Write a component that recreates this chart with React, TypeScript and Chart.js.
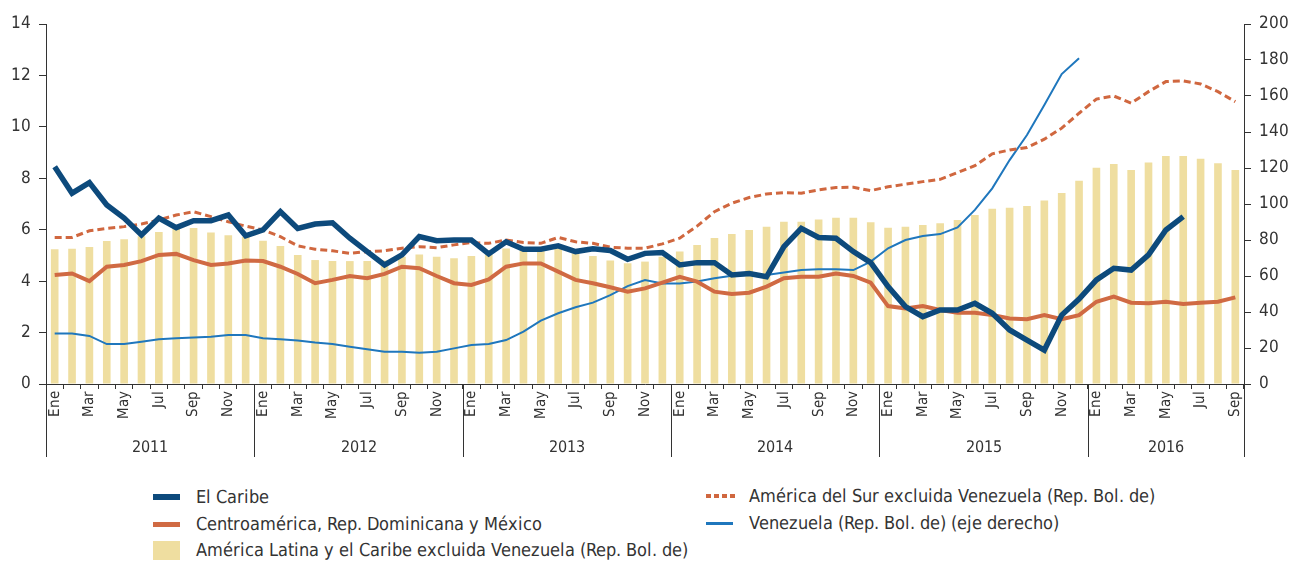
import React, { useEffect, useRef } from 'react';
import { Chart, registerables } from 'chart.js';

Chart.register(...registerables);

const monthNames = ['Ene', 'Feb', 'Mar', 'Abr', 'May', 'Jun', 'Jul', 'Ago', 'Sep', 'Oct', 'Nov', 'Dic'];
const years = ['2011', '2012', '2013', '2014', '2015', '2016'];
const monthsInLastYear = 9;

const elCaribe = [
  8.45, 7.42, 7.83, 6.96, 6.45, 5.8, 6.45, 6.08, 6.35, 6.35, 6.57, 5.76,
  5.99, 6.7, 6.05, 6.22, 6.27, 5.67, 5.15, 4.63, 5.02, 5.73, 5.57, 5.6,
  5.6, 5.06, 5.53, 5.24, 5.24, 5.37, 5.15, 5.26, 5.19, 4.85, 5.08, 5.11,
  4.63, 4.72, 4.72, 4.24, 4.3, 4.17, 5.34, 6.05, 5.7, 5.67, 5.15, 4.72,
  3.79, 3.01, 2.62, 2.88, 2.88, 3.14, 2.75, 2.1, 1.71, 1.32, 2.68, 3.3,
  4.05, 4.5, 4.43, 5.02, 5.99, 6.51, null, null, null,
];

const centroamerica = [
  4.24, 4.3, 4.0, 4.56, 4.63, 4.78, 5.02, 5.06, 4.82, 4.63, 4.69, 4.8,
  4.78, 4.56, 4.28, 3.92, 4.05, 4.2, 4.11, 4.28, 4.56, 4.5, 4.2, 3.92,
  3.85, 4.07, 4.56, 4.69, 4.69, 4.37, 4.05, 3.92, 3.76, 3.59, 3.72, 3.94,
  4.17, 3.98, 3.59, 3.5, 3.55, 3.79, 4.11, 4.17, 4.17, 4.3, 4.2, 3.94,
  3.03, 2.94, 3.03, 2.88, 2.77, 2.77, 2.68, 2.55, 2.52, 2.68, 2.52, 2.68,
  3.2, 3.4, 3.16, 3.14, 3.2, 3.11, 3.16, 3.2, 3.37,
];

const americaDelSur = [
  5.7, 5.7, 5.96, 6.05, 6.12, 6.22, 6.38, 6.57, 6.7, 6.51, 6.31, 6.14,
  5.99, 5.73, 5.37, 5.24, 5.18, 5.08, 5.15, 5.18, 5.28, 5.34, 5.3, 5.41,
  5.5, 5.47, 5.6, 5.5, 5.47, 5.7, 5.53, 5.47, 5.32, 5.28, 5.28, 5.45,
  5.67, 6.14, 6.7, 7.03, 7.25, 7.39, 7.44, 7.42, 7.55, 7.64, 7.65, 7.52,
  7.67, 7.77, 7.87, 7.96, 8.22, 8.49, 8.95, 9.1, 9.2, 9.52, 9.95, 10.53,
  11.08, 11.2, 10.92, 11.37, 11.76, 11.79, 11.67, 11.37, 10.98,
];

const venezuela = [
  28.1, 28.1, 26.7, 22.2, 22.2, 23.5, 24.8, 25.4, 25.9, 26.3, 27.2, 27.2,
  25.4, 24.8, 24.1, 23.0, 22.2, 20.7, 19.3, 17.9, 17.9, 17.4, 17.9, 19.8,
  21.7, 22.2, 24.4, 29.1, 35.2, 39.3, 42.6, 45.2, 49.4, 54.4, 57.8, 55.9,
  55.9, 56.9, 58.7, 60.2, 60.6, 60.6, 61.9, 63.3, 63.7, 63.7, 63.3, 68,
  75.4, 80, 82.2, 83.3, 87, 96.7, 108.7, 124.4, 138.3, 155, 172.2, 181,
  null, null, null, null, null, null, null, null, null,
];

const americaLatina = [
  5.24, 5.26, 5.33, 5.56, 5.63, 5.75, 5.91, 6.05, 6.07, 5.89, 5.78, 5.72,
  5.57, 5.37, 5.02, 4.82, 4.78, 4.78, 4.78, 4.8, 4.95, 5.04, 4.95, 4.89,
  4.98, 5.05, 5.27, 5.2, 5.2, 5.27, 5.08, 4.98, 4.8, 4.7, 4.76, 4.95,
  5.15, 5.41, 5.68, 5.83, 5.99, 6.12, 6.31, 6.31, 6.4, 6.47, 6.47, 6.29,
  6.08, 6.12, 6.18, 6.25, 6.38, 6.57, 6.82, 6.85, 6.92, 7.14, 7.43, 7.9,
  8.41, 8.56, 8.32, 8.61, 8.87, 8.87, 8.76, 8.58, 8.32,
];

const seriesNames = [
  'El Caribe',
  'Centroamérica, Rep. Dominicana y México',
  'América Latina y el Caribe excluida Venezuela (Rep. Bol. de)',
  'América del Sur excluida Venezuela (Rep. Bol. de)',
  'Venezuela (Rep. Bol. de) (eje derecho)',
];

const COLORS = {
  caribe: '#0d4a7c',
  centro: '#d06a43',
  sur: '#d0673f',
  vene: '#1f77bd',
  bars: '#efdea0',
  text: '#333333',
  axis: '#333333',
};

const FONT = '"CondNarrow", "CondDejaVu", "Liberation Sans", sans-serif';
const FONT_FACES = `
@font-face { font-family: 'CondNarrow'; src: local('Liberation Sans Narrow'), local('LiberationSansNarrow-Regular'), local('Liberation Sans Narrow Regular'); }
@font-face { font-family: 'CondDejaVu'; src: local('DejaVu Sans Condensed'), local('DejaVuSansCondensed'); }
`;

const labels: string[] = [];
years.forEach((y, yi) => {
  const n = yi === years.length - 1 ? monthsInLastYear : 12;
  for (let m = 0; m < n; m++) labels.push(monthNames[m]);
});

const yearPlugin = {
  id: 'yearLabels',
  afterDraw(chart: any) {
    const xs = chart.scales.x;
    const ctx = chart.ctx;
    const n = chart.data.labels.length;
    const step = xs.getPixelForValue(1) - xs.getPixelForValue(0);
    const bottom = chart.chartArea.bottom;
    const edges: number[] = [];
    years.forEach((_, i) => edges.push(xs.getPixelForValue(i * 12) - step / 2));
    edges.push(xs.getPixelForValue(n - 1) + step / 2);
    ctx.save();
    ctx.strokeStyle = COLORS.axis;
    ctx.lineWidth = 1;
    edges.forEach((e) => {
      const x = Math.round(e) + 0.5;
      ctx.beginPath();
      ctx.moveTo(x, bottom);
      ctx.lineTo(x, bottom + 73);
      ctx.stroke();
    });
    ctx.fillStyle = COLORS.text;
    ctx.font = `16px ${FONT}`;
    ctx.textAlign = 'center';
    ctx.textBaseline = 'middle';
    years.forEach((y, i) => {
      ctx.fillText(y, (edges[i] + edges[i + 1]) / 2, bottom + 64);
    });
    ctx.restore();
  },
};

function Swatch({ kind }: { kind: string }) {
  if (kind === 'bar') {
    return <div style={{ width: 27, height: 19, background: COLORS.bars }} />;
  }
  if (kind === 'dash') {
    return (
      <div style={{ width: 29, height: 4, display: 'flex', gap: 3 }}>
        {[0, 1, 2, 3].map((i) => (
          <div key={i} style={{ width: 5, height: 4, background: COLORS.sur }} />
        ))}
      </div>
    );
  }
  const map: any = {
    caribe: { c: COLORS.caribe, h: 6 },
    centro: { c: COLORS.centro, h: 5 },
    vene: { c: COLORS.vene, h: 3 },
  };
  return <div style={{ width: 27, height: map[kind].h, background: map[kind].c }} />;
}

function LegendItem({ x, y, kind, text }: { x: number; y: number; kind: string; text: string }) {
  return (
    <div
      style={{
        position: 'absolute',
        left: x,
        top: y - 13,
        height: 26,
        display: 'flex',
        alignItems: 'center',
        fontFamily: FONT,
        fontSize: 17.5,
        color: COLORS.text,
        whiteSpace: 'nowrap',
      }}
    >
      <div style={{ width: 43, display: 'flex', alignItems: 'center' }}>
        <Swatch kind={kind} />
      </div>
      <span>{text}</span>
    </div>
  );
}

export default function App() {
  const ref = useRef<HTMLCanvasElement | null>(null);

  useEffect(() => {
    let chart: any = null;
    let cancelled = false;
    const style = document.createElement('style');
    style.textContent = FONT_FACES;
    document.head.appendChild(style);

    const build = () => {
      if (cancelled || !ref.current) return;
      chart = new Chart(ref.current, {
        type: 'bar',
        data: {
          labels,
          datasets: [
            {
              type: 'line',
              label: seriesNames[0],
              data: elCaribe,
              borderColor: COLORS.caribe,
              borderWidth: 5.5,
              pointRadius: 0,
              tension: 0,
              yAxisID: 'y',
              order: 0,
            } as any,
            {
              type: 'line',
              label: seriesNames[1],
              data: centroamerica,
              borderColor: COLORS.centro,
              borderWidth: 4,
              pointRadius: 0,
              tension: 0,
              yAxisID: 'y',
              order: 1,
            },
            {
              type: 'line',
              label: seriesNames[3],
              data: americaDelSur,
              borderColor: COLORS.sur,
              borderWidth: 3,
              borderDash: [7, 4],
              pointRadius: 0,
              tension: 0,
              yAxisID: 'y',
              order: 2,
            },
            {
              type: 'line',
              label: seriesNames[4],
              data: venezuela,
              borderColor: COLORS.vene,
              borderWidth: 2,
              pointRadius: 0,
              tension: 0,
              yAxisID: 'y1',
              order: 3,
            },
            {
              type: 'bar',
              label: seriesNames[2],
              data: americaLatina,
              backgroundColor: COLORS.bars,
              barPercentage: 0.44,
              categoryPercentage: 1,
              yAxisID: 'y',
              order: 10,
            },
          ],
        },
        options: {
          responsive: false,
          animation: false,
          layout: { padding: { top: 24, left: 0, right: 0, bottom: 0 } },
          plugins: {
            legend: { display: false },
            tooltip: { enabled: false },
          },
          scales: {
            x: {
              offset: true,
              grid: {
                display: true,
                offset: true,
                drawOnChartArea: false,
                drawTicks: true,
                tickLength: 5,
                color: COLORS.axis,
              },
              border: { display: true, color: COLORS.axis, width: 1 },
              ticks: {
                autoSkip: false,
                maxRotation: 90,
                minRotation: 90,
                padding: 2,
                color: COLORS.text,
                font: { family: FONT, size: 15 },
                callback: (_v: any, i: number) => (i % 2 === 0 ? labels[i] : ''),
              },
              afterFit: (s: any) => {
                s.height = 86;
              },
            },
            y: {
              position: 'left',
              min: 0,
              max: 14,
              grid: {
                drawOnChartArea: false,
                drawTicks: true,
                tickLength: 7,
                color: COLORS.axis,
              },
              border: { display: true, color: COLORS.axis, width: 1 },
              ticks: {
                stepSize: 2,
                padding: 8,
                color: COLORS.text,
                font: { family: FONT, size: 17 },
              },
              afterFit: (s: any) => {
                s.width = 46;
              },
            },
            y1: {
              position: 'right',
              min: 0,
              max: 200,
              grid: {
                drawOnChartArea: false,
                drawTicks: true,
                tickLength: 7,
                color: COLORS.axis,
              },
              border: { display: true, color: COLORS.axis, width: 1 },
              ticks: {
                stepSize: 20,
                padding: 8,
                color: COLORS.text,
                font: { family: FONT, size: 17 },
              },
              afterFit: (s: any) => {
                s.width = 47;
              },
            },
          },
        },
        plugins: [yearPlugin],
      });
    };

    const fonts: any = (document as any).fonts;
    if (fonts && fonts.load) {
      Promise.all([
        fonts.load('16px "CondNarrow"').catch(() => null),
        fonts.load('16px "CondDejaVu"').catch(() => null),
      ]).then(build, build);
    } else {
      build();
    }

    return () => {
      cancelled = true;
      if (chart) chart.destroy();
      style.remove();
    };
  }, []);

  return (
    <div
      style={{
        position: 'absolute',
        left: 0,
        top: 0,
        width: 1291,
        height: 562,
        background: '#fff',
        overflow: 'hidden',
      }}
    >
      <canvas ref={ref} width={1291} height={470} style={{ position: 'absolute', left: 0, top: 0 }} />
      <LegendItem x={153} y={497} kind="caribe" text={seriesNames[0]} />
      <LegendItem x={153} y={524} kind="centro" text={seriesNames[1]} />
      <LegendItem x={153} y={550} kind="bar" text={seriesNames[2]} />
      <LegendItem x={706} y={496} kind="dash" text={seriesNames[3]} />
      <LegendItem x={706} y={523} kind="vene" text={seriesNames[4]} />
    </div>
  );
}
